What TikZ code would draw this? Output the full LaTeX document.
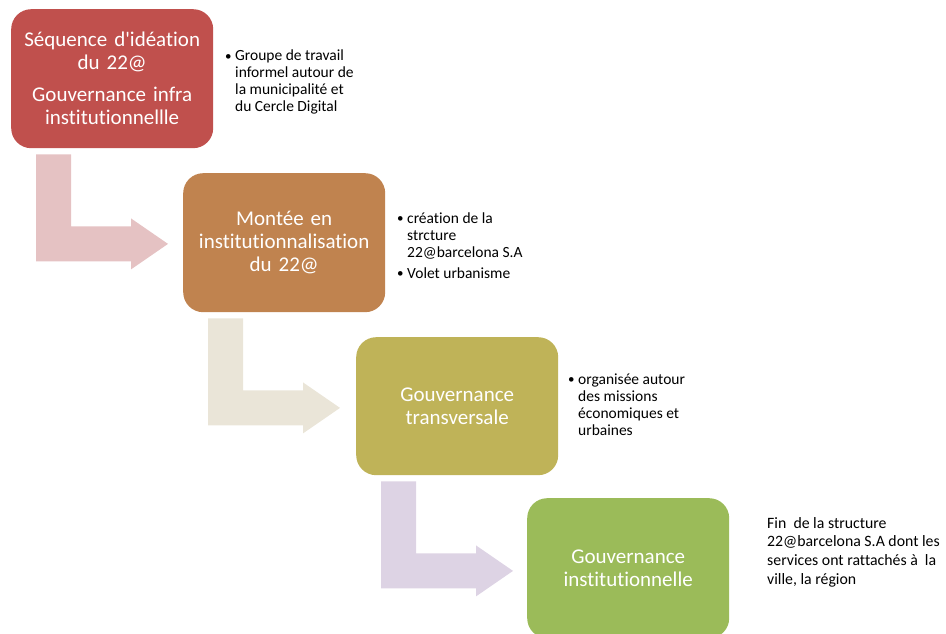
\documentclass[tikz,border=0pt]{standalone}
\usepackage{fontspec}
\setmainfont{Carlito}[Ligatures={NoCommon}]
\usetikzlibrary{calc}

\definecolor{rougeEtape}{HTML}{C0504D}
\definecolor{brunEtape}{HTML}{C0834F}
\definecolor{oliveEtape}{HTML}{BFB358}
\definecolor{vertEtape}{HTML}{9BBB59}
\definecolor{flecheRose}{HTML}{E5C2C3}
\definecolor{flecheBeige}{HTML}{EAE5D8}
\definecolor{flecheMauve}{HTML}{DDD3E4}

\newcommand{\puce}{\makebox[10pt][l]{\raisebox{0.5pt}{\fontsize{13}{13}\selectfont\textbullet}}}

\begin{document}
\begin{tikzpicture}[x=1pt, y=-1pt,
    etape/.style={rounded corners=20pt, anchor=north west, inner sep=0pt,
      minimum width=202pt, minimum height=139pt, text width=196pt,
      align=center, text=white, font=\fontsize{21}{23}\selectfont},
    note/.style={anchor=base west, inner sep=0pt, align=left,
      font=\fontsize{15.5}{17}\selectfont}]
    \useasboundingbox (0,0) rectangle (946,634);
    % les quatre etapes
    \node[etape, fill=rougeEtape] (ideation) at (11,9)
      {Séquence d\textquotesingle idéation\\du 22@\\[9pt]Gouvernance infra\\institutionnellle};
    \node[etape, fill=brunEtape] (montee) at (183,173)
      {Montée en\\institutionnalisation\\du 22@};
    \node[etape, fill=oliveEtape, minimum height=138pt] (transv) at (356,337)
      {Gouvernance\\transversale};
    \node[etape, fill=vertEtape, minimum height=140pt] (instit) at (527,498)
      {Gouvernance\\institutionnelle};
    % fleches coudees
    \foreach \de/\col in {ideation/flecheRose, montee/flecheBeige, transv/flecheMauve}
      \fill[\col] ($(\de.south west)+(25,6)$) -- ++(35,0) -- ++(0,72) -- ++(60,0)
        -- ++(0,-8) -- ++(37,25.5) -- ++(-37,25.5) -- ++(0,-8) -- ++(-95,0) -- cycle;
    % commentaires
    \node[note] (n1) at (225,60.7) {\begin{tabular}[t]{@{}l@{}l@{}}
      \puce & Groupe de travail\\ & informel autour de\\
      & la municipalité et\\ & du Cercle Digital\end{tabular}};
    \node[note] (n2) at (397,223.3) {\begin{tabular}[t]{@{}l@{}l@{}}
      \puce & création de la\\ & strcture\\ & 22@barcelona S.A\\[4pt]
      \puce & Volet urbanisme\end{tabular}};
    \node[note] (n3) at (568,384) {\begin{tabular}[t]{@{}l@{}l@{}}
      \puce & organisée autour\\ & des missions\\
      & économiques et\\ & urbaines\end{tabular}};
    \node[note, font=\fontsize{15.8}{18.7}\selectfont] (n4) at (767,528)
      {\begin{tabular}[t]{@{}l@{}}Fin\ \ de la structure\\
      22@barcelona S.A dont les\\ services ont rattachés à\ \ la\\
      ville, la région\end{tabular}};
  \end{tikzpicture}
\end{document}
